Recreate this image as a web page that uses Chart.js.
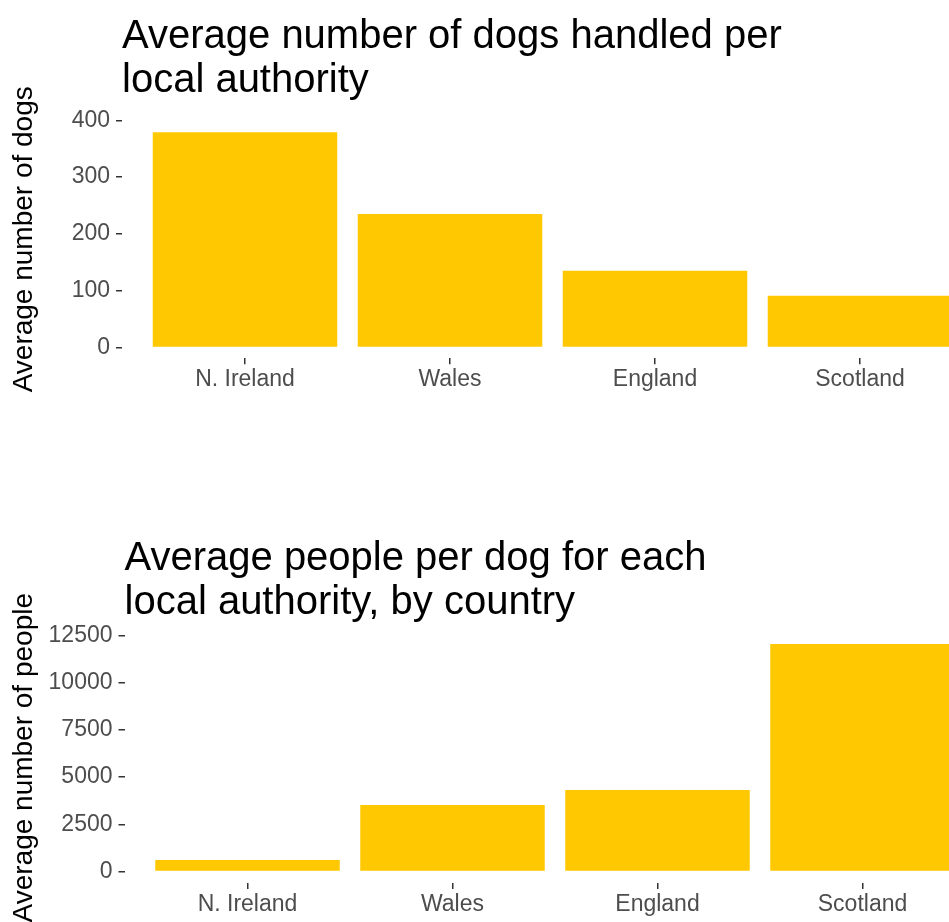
<!DOCTYPE html>
<html>
<head>
<meta charset="utf-8">
<title>Dogs handled per local authority</title>
<script src="https://cdn.jsdelivr.net/npm/chart.js@4.4.1/dist/chart.umd.min.js"></script>
<style>
  html, body { margin: 0; padding: 0; background: #fff; overflow: hidden; }
  body { width: 949px; height: 922px; position: relative; }
  .panel { position: absolute; left: 0; }
  #topPanel { top: 0; }
  #bottomPanel { top: 480px; }
</style>
</head>
<body>
<div class="panel" id="topPanel"><canvas id="dogsChart" width="985" height="400"></canvas></div>
<div class="panel" id="bottomPanel"><canvas id="peopleChart" width="987" height="442"></canvas></div>
<script>
// data
const countries = ['N. Ireland', 'Wales', 'England', 'Scotland'];
const dogsPerAuthority = [379, 235, 135, 91];
const peoplePerDog = [610, 3520, 4320, 12050];
const dogsTicks = [0, 100, 200, 300, 400];
const peopleTicks = [0, 2500, 5000, 7500, 10000, 12500];

const BAR_COLOUR = '#FFC800';
const TICK_COLOUR = '#333333';
const LABEL_COLOUR = '#4D4D4D';

Chart.defaults.font.family = "'Liberation Sans', Arial, sans-serif";
Chart.defaults.animation = false;

function makeBarChart(canvasId, opts) {
    const ctx = document.getElementById(canvasId).getContext('2d');

    return new Chart(ctx, {
        type: 'bar',
        data: {
            datasets: [{
                data: countries.map((c, i) => ({ x: i, y: opts.values[i] })),
                backgroundColor: BAR_COLOUR,
                borderWidth: 0,
                categoryPercentage: 0.9,
                barPercentage: 1
            }]
        },
        options: {
            responsive: false,
            layout: { padding: { left: 0, right: opts.padRight, top: 0, bottom: 0 } },
            plugins: {
                legend: { display: false },
                tooltip: { enabled: false },
                // fullSize false keeps the title lined up with the plot area, like ggplot
                title: {
                    display: true,
                    text: opts.title,
                    align: 'start',
                    fullSize: false,
                    color: '#000',
                    font: { size: 40, weight: 'normal', lineHeight: 1.1 },
                    padding: { top: opts.titleTop, bottom: opts.titleBottom }
                }
            },
            scales: {
                x: {
                    type: 'linear',
                    min: -0.6,
                    max: countries.length - 0.4,
                    offset: false,
                    afterBuildTicks: (scale) => {
                        scale.ticks = countries.map((c, i) => ({ value: i }));
                    },
                    afterFit: (scale) => { scale.height = opts.xHeight; },
                    border: { display: false },
                    grid: {
                        offset: false,
                        drawOnChartArea: false,
                        drawTicks: true,
                        tickLength: 6,
                        color: TICK_COLOUR,
                        lineWidth: 1.5
                    },
                    ticks: {
                        autoSkip: false,
                        maxRotation: 0,
                        padding: 2,
                        color: LABEL_COLOUR,
                        font: { size: 23 },
                        callback: (value) => countries[value]
                    }
                },
                y: {
                    min: opts.yMin,
                    max: opts.yMax,
                    afterBuildTicks: (scale) => {
                        scale.ticks = opts.yTicks.map(v => ({ value: v }));
                    },
                    afterFit: (scale) => { scale.width = opts.yWidth; },
                    border: { display: false },
                    grid: {
                        drawOnChartArea: false,
                        drawTicks: true,
                        tickLength: 6,
                        color: TICK_COLOUR,
                        lineWidth: 1.5
                    },
                    ticks: {
                        padding: 6,
                        color: LABEL_COLOUR,
                        font: { size: 23 },
                        callback: (value) => String(value)
                    },
                    title: {
                        display: true,
                        text: opts.yTitle,
                        color: '#000',
                        font: { size: 28, lineHeight: 1.2 },
                        padding: { top: 7, bottom: 0 }
                    }
                }
            }
        }
    });
}

makeBarChart('dogsChart', {
    title: ['Average number of dogs handled per', 'local authority'],
    yTitle: 'Average number of dogs',
    values: dogsPerAuthority,
    yTicks: dogsTicks,
    yMin: -19,
    yMax: 400,
    yWidth: 122,
    xHeight: 41.7,
    padRight: 2,
    titleTop: 15,
    titleBottom: 17.3
});

makeBarChart('peopleChart', {
    title: ['Average people per dog for each', 'local authority, by country'],
    yTitle: 'Average number of people',
    values: peoplePerDog,
    yTicks: peopleTicks,
    yMin: -602,
    yMax: 12652,
    yWidth: 124.5,
    xHeight: 39.1,
    padRight: 1.5,
    titleTop: 57,
    titleBottom: 7.6
});
</script>
</body>
</html>
